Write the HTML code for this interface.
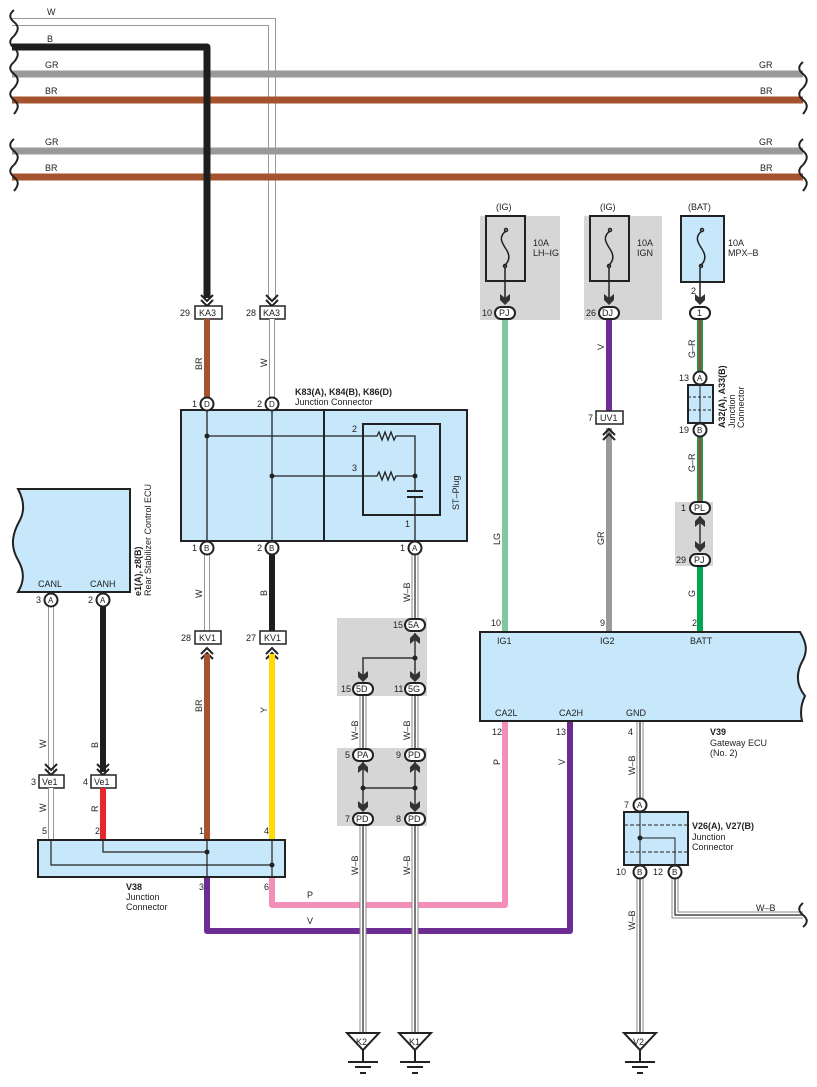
<!DOCTYPE html>
<html><head><meta charset="utf-8"><style>
html,body{margin:0;padding:0;background:#fff}
svg{display:block}
text{font-family:"Liberation Sans",sans-serif;font-size:9px;fill:#222}
.b{font-weight:bold}
</style></head><body>
<svg width="817" height="1087" viewBox="0 0 817 1087" xmlns="http://www.w3.org/2000/svg">
<defs>
<path id="chd" d="M-6,-9 L0,-3 L6,-9 M-6,-4 L0,2 L6,-4" fill="none" stroke="#222" stroke-width="2"/>
<path id="chu" d="M-6,9 L0,3 L6,9 M-6,4 L0,-2 L6,4" fill="none" stroke="#222" stroke-width="2"/>
<polygon id="ard" points="-5,-7 0,-3 5,-7 5,-1 0,4 -5,-1" fill="#333"/>
<polygon id="aru" points="-5,7 0,3 5,7 5,1 0,-4 -5,1" fill="#333"/>
<path id="wv" d="M0,0 c-5,4 -5,8 0,12 c5,4 5,8 0,14" fill="none" stroke="#222" stroke-width="2"/>
<g id="gnd"><polygon points="-16,0 16,0 0,17" fill="#fff" stroke="#222" stroke-width="2"/><path d="M0,17 V29 M-15,29 H15 M-8,34 H8 M-3,40 H3" stroke="#222" stroke-width="2"/></g>
</defs>

<!-- Top bus lines -->
<g fill="none">
<path d="M12,22 H272 V300" stroke="#999" stroke-width="8"/>
<path d="M12,22 H272 V300" stroke="#fff" stroke-width="6"/>
<line x1="12" y1="74" x2="803" y2="74" stroke="#999" stroke-width="7"/>
<line x1="12" y1="100" x2="803" y2="100" stroke="#a5522f" stroke-width="7"/>
<line x1="12" y1="151" x2="803" y2="151" stroke="#999" stroke-width="7"/>
<line x1="12" y1="177" x2="803" y2="177" stroke="#a5522f" stroke-width="7"/>
<path d="M12,47 H207 V298" stroke="#1e1e1e" stroke-width="7" stroke-linejoin="round"/>
</g>
<g>
<use href="#wv" x="14" y="10"/><use href="#wv" x="14" y="36"/><use href="#wv" x="14" y="62"/><use href="#wv" x="14" y="88"/>
<use href="#wv" x="14" y="139"/><use href="#wv" x="14" y="165"/>
<use href="#wv" x="803" y="62"/><use href="#wv" x="803" y="88"/><use href="#wv" x="803" y="139"/><use href="#wv" x="803" y="165"/>
</g>
<text x="47" y="15">W</text><text x="47" y="42">B</text><text x="45" y="68">GR</text><text x="45" y="94">BR</text>
<text x="45" y="145">GR</text><text x="45" y="171">BR</text>
<text x="759" y="68">GR</text><text x="760" y="94">BR</text><text x="759" y="145">GR</text><text x="760" y="171">BR</text>

<!-- KA3 -->
<use href="#chd" x="207" y="304"/><use href="#chd" x="272" y="304"/>
<rect x="195" y="306" width="27" height="13" fill="#fff" stroke="#222" stroke-width="1.5"/>
<rect x="260" y="306" width="25" height="13" fill="#fff" stroke="#222" stroke-width="1.5"/>
<text x="199" y="316">KA3</text><text x="263" y="316">KA3</text>
<text x="180" y="316">29</text><text x="246" y="316">28</text>
<line x1="207" y1="319" x2="207" y2="398" stroke="#a5522f" stroke-width="6"/>
<line x1="272" y1="319" x2="272" y2="398" stroke="#999" stroke-width="6"/>
<line x1="272" y1="319" x2="272" y2="398" stroke="#fff" stroke-width="4"/>
<text transform="translate(202,370) rotate(-90)">BR</text>
<text transform="translate(267,367) rotate(-90)">W</text>

<!-- Junction K83 -->
<text x="295" y="395" class="b">K83(A), K84(B), K86(D)</text>
<text x="295" y="405">Junction Connector</text>
<rect x="181" y="410" width="286" height="131" fill="#c7e8fa" stroke="#222" stroke-width="2"/>
<line x1="324" y1="410" x2="324" y2="541" stroke="#222" stroke-width="2"/>
<rect x="363" y="424" width="77" height="91" fill="none" stroke="#222" stroke-width="2"/>
<g stroke="#222" stroke-width="1.3" fill="none">
<line x1="207" y1="410" x2="207" y2="541"/><line x1="272" y1="410" x2="272" y2="541"/>
<path d="M207,436 H377 l2,-4 l3,8 l3,-8 l3,8 l3,-8 l3,8 l2,-4 H415 V491"/>
<path d="M272,476 H377 l2,-4 l3,8 l3,-8 l3,8 l3,-8 l3,8 l2,-4 H415"/>
<line x1="415" y1="497" x2="415" y2="541"/>
</g>
<path d="M407,491 H423 M407,497 H423" stroke="#222" stroke-width="2"/>
<circle cx="207" cy="436" r="2.5" fill="#222"/><circle cx="272" cy="476" r="2.5" fill="#222"/><circle cx="415" cy="476" r="2.5" fill="#222"/>
<text x="352" y="432">2</text><text x="352" y="471">3</text><text x="405" y="527">1</text>
<text transform="translate(459,510) rotate(-90)">ST–Plug</text>

<!-- wires below K83 -->
<line x1="207" y1="548" x2="207" y2="631" stroke="#999" stroke-width="6"/>
<line x1="207" y1="548" x2="207" y2="631" stroke="#fff" stroke-width="4"/>
<line x1="272" y1="548" x2="272" y2="631" stroke="#1e1e1e" stroke-width="6"/>
<line x1="415" y1="548" x2="415" y2="620" stroke="#888" stroke-width="7"/>
<line x1="415" y1="548" x2="415" y2="620" stroke="#fff" stroke-width="5"/>
<line x1="415" y1="548" x2="415" y2="620" stroke="#222" stroke-width="1.2"/>
<text transform="translate(202,598) rotate(-90)">W</text>
<text transform="translate(267,596) rotate(-90)">B</text>
<text transform="translate(410,602) rotate(-90)">W–B</text>

<!-- circles -->
<g fill="#fff" stroke="#222" stroke-width="2">
<circle cx="207" cy="404" r="6.5"/><circle cx="272" cy="404" r="6.5"/>
<circle cx="207" cy="548" r="6.5"/><circle cx="272" cy="548" r="6.5"/><circle cx="415" cy="548" r="6.5"/>
</g>
<text x="204" y="407" style="font-size:8px">D</text><text x="269" y="407" style="font-size:8px">D</text>
<text x="204" y="551" style="font-size:8px">B</text><text x="269" y="551" style="font-size:8px">B</text><text x="412" y="551" style="font-size:8px">A</text>
<text x="192" y="407">1</text><text x="257" y="407">2</text>
<text x="192" y="551">1</text><text x="257" y="551">2</text><text x="400" y="551">1</text>

<!-- KV1 -->
<rect x="195" y="631" width="26" height="13" fill="#fff" stroke="#222" stroke-width="1.5"/>
<rect x="260" y="631" width="26" height="13" fill="#fff" stroke="#222" stroke-width="1.5"/>
<text x="199" y="641">KV1</text><text x="264" y="641">KV1</text>
<text x="181" y="641">28</text><text x="246" y="641">27</text>
<use href="#chu" x="207" y="650"/><use href="#chu" x="272" y="650"/>
<line x1="207" y1="654" x2="207" y2="840" stroke="#a5522f" stroke-width="6"/>
<line x1="272" y1="654" x2="272" y2="840" stroke="#ffdc00" stroke-width="6"/>
<text transform="translate(202,712) rotate(-90)">BR</text>
<text transform="translate(267,713) rotate(-90)">Y</text>

<!-- P and V wires -->
<path d="M505,721 V905 H272 V877" fill="none" stroke="#f48fb9" stroke-width="6" stroke-linejoin="round"/>
<path d="M570,721 V931 H207 V877" fill="none" stroke="#6c2c91" stroke-width="6" stroke-linejoin="round"/>

<!-- splice boxes -->
<rect x="337" y="618" width="90" height="78" fill="#d6d6d6"/>
<rect x="337" y="748" width="90" height="78" fill="#d6d6d6"/>
<path d="M363,696 V752 M415,696 V752 M363,826 V1033 M415,826 V1033 M640,721 V800 M640,878 V1033 M675,878 V915 H803" stroke="#888" stroke-width="7" fill="none"/>
<path d="M363,696 V752 M415,696 V752 M363,826 V1033 M415,826 V1033 M640,721 V800 M640,878 V1033 M675,878 V915 H803" stroke="#fff" stroke-width="5" fill="none"/>
<path d="M363,696 V752 M415,696 V752 M363,826 V1033 M415,826 V1033 M640,721 V800 M640,878 V1033 M675,878 V915 H803" stroke="#222" stroke-width="1.2" fill="none"/>
<g stroke="#333" stroke-width="1.5" fill="none">
<path d="M415,633 V681 M415,658 H363 V681"/>
<path d="M363,762 V811 M415,762 V811 M363,788 H415"/>
</g>
<circle cx="415" cy="658" r="2.5" fill="#222"/><circle cx="363" cy="788" r="2.5" fill="#222"/><circle cx="415" cy="788" r="2.5" fill="#222"/>
<use href="#aru" x="415" y="637"/><use href="#ard" x="415" y="678"/><use href="#ard" x="363" y="678"/>
<use href="#aru" x="363" y="766"/><use href="#aru" x="415" y="766"/><use href="#ard" x="363" y="808"/><use href="#ard" x="415" y="808"/>
<g fill="#fff" stroke="#222" stroke-width="2">
<rect x="405" y="619" width="20" height="12" rx="6"/>
<rect x="353" y="683" width="20" height="12" rx="6"/><rect x="405" y="683" width="20" height="12" rx="6"/>
<rect x="353" y="749" width="20" height="12" rx="6"/><rect x="405" y="749" width="20" height="12" rx="6"/>
<rect x="353" y="813" width="20" height="12" rx="6"/><rect x="405" y="813" width="20" height="12" rx="6"/>
</g>
<text x="408" y="628">5A</text><text x="356" y="692">5D</text><text x="408" y="692">5G</text>
<text x="357" y="758">PA</text><text x="408" y="758">PD</text><text x="356" y="822">PD</text><text x="408" y="822">PD</text>
<text x="393" y="628">15</text><text x="341" y="692">15</text><text x="394" y="692">11</text>
<text x="345" y="758">5</text><text x="396" y="758">9</text><text x="345" y="822">7</text><text x="396" y="822">8</text>
<text transform="translate(358,740) rotate(-90)">W–B</text>
<text transform="translate(410,740) rotate(-90)">W–B</text>
<text transform="translate(358,875) rotate(-90)">W–B</text>
<text transform="translate(410,875) rotate(-90)">W–B</text>
<text transform="translate(635,775) rotate(-90)">W–B</text>
<text transform="translate(635,930) rotate(-90)">W–B</text>
<text x="756" y="911">W–B</text>
<text x="307" y="898">P</text><text x="307" y="924">V</text>

<!-- Grounds -->
<use href="#gnd" x="363" y="1033"/><use href="#gnd" x="415" y="1033"/><use href="#gnd" x="640" y="1033"/>
<text x="356" y="1045">K2</text><text x="409" y="1045">K1</text><text x="633" y="1045">V2</text>

<!-- Fuses -->
<rect x="480" y="216" width="80" height="104" fill="#d6d6d6"/>
<rect x="584" y="216" width="78" height="104" fill="#d6d6d6"/>
<rect x="486" y="216" width="39" height="65" fill="none" stroke="#222" stroke-width="2"/>
<rect x="590" y="216" width="39" height="65" fill="none" stroke="#222" stroke-width="2"/>
<rect x="681" y="216" width="43" height="66" fill="#c7e8fa" stroke="#222" stroke-width="2"/>
<g fill="none" stroke="#222" stroke-width="1.5">
<path d="M506,231 c-8,6 -4,12 0,18 c4,6 4,12 -2,17"/><circle cx="506" cy="230" r="1.5"/><circle cx="505" cy="266" r="1.5"/>
<path d="M610,231 c-8,6 -4,12 0,18 c4,6 4,12 -2,17"/><circle cx="610" cy="230" r="1.5"/><circle cx="609" cy="266" r="1.5"/>
<path d="M702,231 c-8,6 -4,12 0,18 c4,6 4,12 -2,17"/><circle cx="702" cy="230" r="1.5"/><circle cx="701" cy="266" r="1.5"/>
<path d="M505,268 V302 M609,268 V302 M700,268 V302"/>
</g>
<use href="#ard" x="505" y="301"/><use href="#ard" x="609" y="301"/><use href="#ard" x="700" y="301"/>
<text x="496" y="210">(IG)</text><text x="600" y="210">(IG)</text><text x="688" y="210">(BAT)</text>
<text x="533" y="246">10A</text><text x="533" y="256">LH–IG</text>
<text x="637" y="246">10A</text><text x="637" y="256">IGN</text>
<text x="728" y="246">10A</text><text x="728" y="256">MPX–B</text>
<text x="691" y="294">2</text>

<!-- vertical wires -->
<line x1="505" y1="320" x2="505" y2="632" stroke="#7fc9a0" stroke-width="6"/>
<line x1="609" y1="320" x2="609" y2="412" stroke="#6c2c91" stroke-width="6"/>
<line x1="609" y1="428" x2="609" y2="632" stroke="#999" stroke-width="6"/>
<line x1="700" y1="320" x2="700" y2="372" stroke="#00a651" stroke-width="6"/>
<line x1="700" y1="320" x2="700" y2="372" stroke="#e8262b" stroke-width="2"/>
<line x1="700" y1="436" x2="700" y2="502" stroke="#00a651" stroke-width="6"/>
<line x1="700" y1="436" x2="700" y2="502" stroke="#e8262b" stroke-width="2"/>
<line x1="700" y1="566" x2="700" y2="632" stroke="#00a651" stroke-width="6"/>
<text transform="translate(500,545) rotate(-90)">LG</text>
<text transform="translate(604,350) rotate(-90)">V</text>
<text transform="translate(604,545) rotate(-90)">GR</text>
<text transform="translate(695,358) rotate(-90)">G–R</text>
<text transform="translate(695,472) rotate(-90)">G–R</text>
<text transform="translate(695,597) rotate(-90)">G</text>

<rect x="596" y="411" width="27" height="13" fill="#fff" stroke="#222" stroke-width="1.5"/>
<text x="600" y="421">UV1</text><text x="588" y="421">7</text>
<use href="#chu" x="609" y="431"/>

<!-- A32 junction -->
<rect x="675" y="502" width="38" height="64" fill="#d6d6d6"/>
<line x1="700" y1="516" x2="700" y2="552" stroke="#333" stroke-width="1.5"/>
<use href="#aru" x="700" y="520"/><use href="#ard" x="700" y="548"/>
<rect x="688" y="385" width="25" height="38" fill="#c7e8fa" stroke="#222" stroke-width="2"/>
<path d="M688,397 H713 M688,410 H713" stroke="#222" stroke-width="1" stroke-dasharray="3,2"/>
<line x1="700" y1="385" x2="700" y2="423" stroke="#222" stroke-width="1"/>
<g fill="#fff" stroke="#222" stroke-width="2">
<rect x="495" y="307" width="20" height="12" rx="6"/><rect x="599" y="307" width="20" height="12" rx="6"/>
<rect x="690" y="307" width="20" height="12" rx="6"/>
<circle cx="700" cy="378" r="6.5"/><circle cx="700" cy="430" r="6.5"/>
<rect x="690" y="502" width="20" height="12" rx="6"/><rect x="690" y="554" width="20" height="12" rx="6"/>
</g>
<text x="499" y="316">PJ</text><text x="602" y="316">DJ</text><text x="697" y="316">1</text>
<text x="697" y="381" style="font-size:8px">A</text><text x="697" y="433" style="font-size:8px">B</text>
<text x="694" y="511">PL</text><text x="694" y="563">PJ</text>
<text x="482" y="316">10</text><text x="586" y="316">26</text>
<text x="679" y="381">13</text><text x="679" y="433">19</text>
<text x="681" y="511">1</text><text x="676" y="563">29</text>
<text transform="translate(725,428) rotate(-90)" class="b">A32(A), A33(B)</text>
<text transform="translate(735,428) rotate(-90)">Junction</text>
<text transform="translate(744,428) rotate(-90)">Connector</text>

<!-- Gateway ECU -->
<path d="M480,632 H800 c6,10 8,18 3,28 c-8,14 -6,26 2,36 c-4,8 -5,16 -3,25 H480 Z" fill="#c7e8fa" stroke="#222" stroke-width="2"/>
<text x="497" y="644">IG1</text><text x="600" y="644">IG2</text><text x="690" y="644">BATT</text>
<text x="491" y="626">10</text><text x="600" y="626">9</text><text x="692" y="626">2</text>
<text x="495" y="716">CA2L</text><text x="559" y="716">CA2H</text><text x="626" y="716">GND</text>
<text x="492" y="735">12</text><text x="556" y="735">13</text><text x="628" y="735">4</text>
<text x="710" y="735" class="b">V39</text><text x="710" y="746">Gateway ECU</text><text x="710" y="756">(No. 2)</text>
<text transform="translate(500,765) rotate(-90)">P</text>
<text transform="translate(565,765) rotate(-90)">V</text>

<!-- V26 junction -->
<rect x="624" y="812" width="64" height="53" fill="#c7e8fa" stroke="#222" stroke-width="2"/>
<path d="M624,825 H688 M624,852 H688" stroke="#222" stroke-width="1" stroke-dasharray="4,2"/>
<path d="M640,812 V865 M640,838 H675 V865" stroke="#222" stroke-width="1" fill="none"/>
<circle cx="640" cy="838" r="2.5" fill="#222"/>
<g fill="#fff" stroke="#222" stroke-width="2">
<circle cx="640" cy="805" r="6.5"/><circle cx="640" cy="872" r="6.5"/><circle cx="675" cy="872" r="6.5"/>
</g>
<text x="637" y="808" style="font-size:8px">A</text><text x="637" y="875" style="font-size:8px">B</text><text x="672" y="875" style="font-size:8px">B</text>
<text x="624" y="808">7</text><text x="616" y="875">10</text><text x="653" y="875">12</text>
<text x="692" y="829" class="b">V26(A), V27(B)</text><text x="692" y="840">Junction</text><text x="692" y="850">Connector</text>
<path d="M803,903 c-5,4 -5,8 0,12 c5,4 5,8 0,12" fill="none" stroke="#222" stroke-width="2"/>

<!-- Rear stabilizer ECU -->
<path d="M18,489 H130 V592 H18 c6,-10 7,-20 0,-32 c-8,-14 -6,-26 2,-40 c5,-10 4,-20 -2,-31 Z" fill="#c7e8fa" stroke="#222" stroke-width="2"/>
<text x="38" y="587">CANL</text><text x="90" y="587">CANH</text>
<text transform="translate(141,596) rotate(-90)" class="b">e1(A), z8(B)</text>
<text transform="translate(151,596) rotate(-90)">Rear Stabilizer Control ECU</text>
<line x1="51" y1="600" x2="51" y2="772" stroke="#999" stroke-width="6"/>
<line x1="51" y1="600" x2="51" y2="772" stroke="#fff" stroke-width="4"/>
<line x1="103" y1="600" x2="103" y2="772" stroke="#1e1e1e" stroke-width="6"/>
<use href="#chd" x="51" y="773"/><use href="#chd" x="103" y="773"/>
<g fill="#fff" stroke="#222" stroke-width="2"><circle cx="51" cy="600" r="6.5"/><circle cx="103" cy="600" r="6.5"/></g>
<text x="48" y="603" style="font-size:8px">A</text><text x="100" y="603" style="font-size:8px">A</text>
<text x="36" y="603">3</text><text x="88" y="603">2</text>
<text transform="translate(46,748) rotate(-90)">W</text>
<text transform="translate(98,748) rotate(-90)">B</text>
<rect x="39" y="775" width="25" height="13" fill="#fff" stroke="#222" stroke-width="1.5"/>
<rect x="91" y="775" width="25" height="13" fill="#fff" stroke="#222" stroke-width="1.5"/>
<text x="42" y="785">Ve1</text><text x="94" y="785">Ve1</text>
<text x="31" y="785">3</text><text x="83" y="785">4</text>
<line x1="51" y1="788" x2="51" y2="840" stroke="#999" stroke-width="6"/>
<line x1="51" y1="788" x2="51" y2="840" stroke="#fff" stroke-width="4"/>
<line x1="103" y1="788" x2="103" y2="840" stroke="#e8262b" stroke-width="6"/>
<text transform="translate(46,812) rotate(-90)">W</text>
<text transform="translate(98,812) rotate(-90)">R</text>

<!-- V38 -->
<rect x="38" y="840" width="247" height="37" fill="#c7e8fa" stroke="#222" stroke-width="2"/>
<g stroke="#222" stroke-width="1.2" fill="none">
<path d="M103,840 V852 H207"/><path d="M51,840 V865 H272"/>
<line x1="207" y1="840" x2="207" y2="877"/><line x1="272" y1="840" x2="272" y2="877"/>
</g>
<circle cx="207" cy="852" r="2.5" fill="#222"/><circle cx="272" cy="865" r="2.5" fill="#222"/>
<text x="42" y="834">5</text><text x="95" y="834">2</text><text x="199" y="834">1</text><text x="264" y="834">4</text>
<text x="199" y="890">3</text><text x="264" y="890">6</text>
<text x="126" y="890" class="b">V38</text><text x="126" y="900">Junction</text><text x="126" y="910">Connector</text>
</svg>
</body></html>
